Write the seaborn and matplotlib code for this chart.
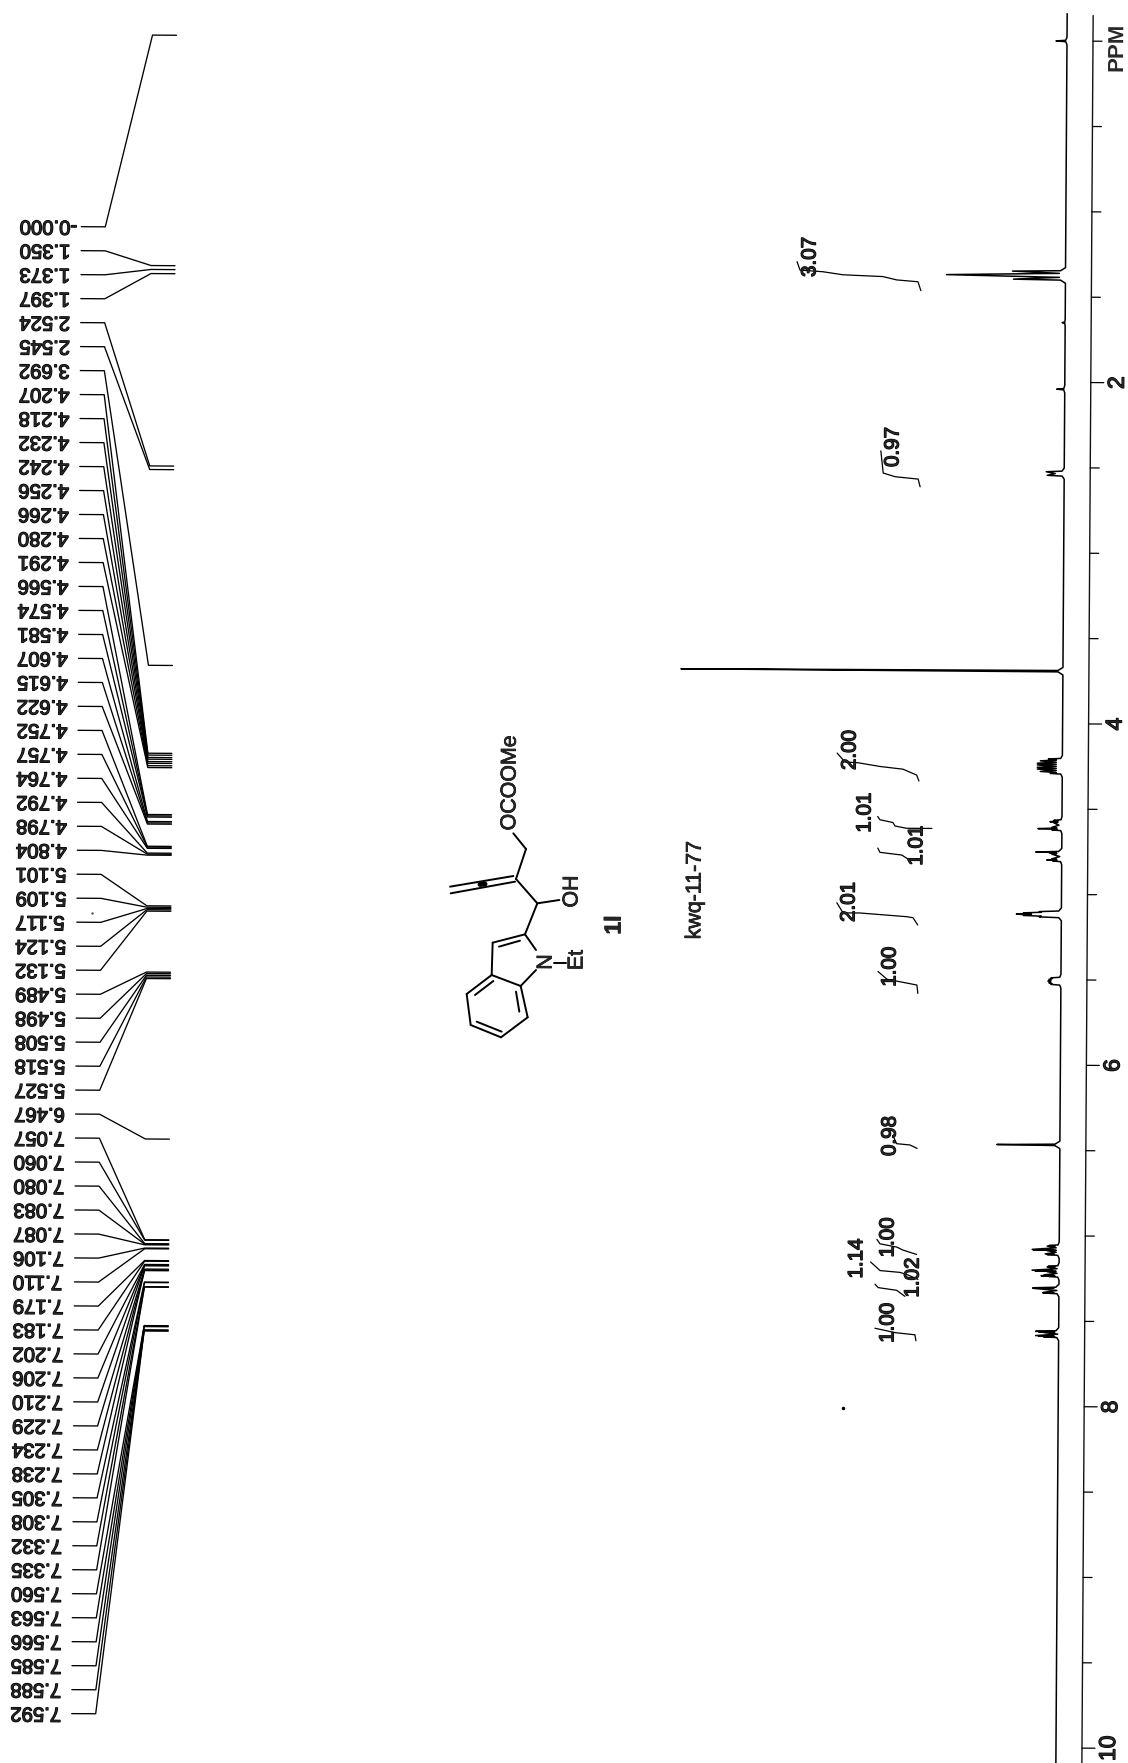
import matplotlib
matplotlib.use('Agg')
import matplotlib.pyplot as plt
import matplotlib.patheffects as pe
from matplotlib.transforms import Affine2D
import numpy as np
import seaborn as sns

# picked peaks, same order as the labels down the left side
peak_labels = ['-0.000', '1.350', '1.373', '1.397', '2.524', '2.545', '3.692',
               '4.207', '4.218', '4.232', '4.242', '4.256', '4.266', '4.280', '4.291',
               '4.566', '4.574', '4.581', '4.607', '4.615', '4.622',
               '4.752', '4.757', '4.764', '4.792', '4.798', '4.804',
               '5.101', '5.109', '5.117', '5.124', '5.132',
               '5.489', '5.498', '5.508', '5.518', '5.527', '6.467',
               '7.057', '7.060', '7.080', '7.083', '7.087', '7.106', '7.110',
               '7.179', '7.183', '7.202', '7.206', '7.210', '7.229', '7.234', '7.238',
               '7.305', '7.308', '7.332', '7.335',
               '7.560', '7.563', '7.566', '7.585', '7.588', '7.592']
peak_height = [11, 53, 119, 52, 18, 17, 382,
               14, 22, 25, 25, 25, 25, 22, 12,
               8, 12, 8, 10, 24, 10,
               26, 12, 10, 10, 15, 9,
               22, 38, 45, 38, 22,
               10, 12, 13, 12, 10, 63,
               10, 12, 27, 26, 12, 14, 12,
               11, 12, 27, 24, 12, 15, 18, 10,
               26, 26, 16, 16,
               23, 20, 15, 23, 20, 15]
# height of the dip after each peak, 0 = back to baseline
peak_valley = [0, 6, 6, 0, 9, 0, 0,
               6, 6, 6, 6, 6, 6, 6, 0,
               4, 4, 3, 5, 5, 0,
               6, 5, 2, 5, 5, 0,
               20, 30, 30, 20, 0,
               9, 10, 10, 9, 0, 0,
               4, 3, 6, 3, 3, 5, 0,
               4, 2, 6, 3, 2, 5, 4, 0,
               5, 2, 5, 0,
               5, 4, 1, 5, 4, 0]
# small unlabelled peaks
extra_ppm = [1.65, 2.04]
extra_height = [3, 8]

axis_ticks = [0.5 * i for i in range(21)]
axis_labels = ['2', '4', '6', '8', '10']

# integral curves: (height, ppm)
int_height = [
    [144.5, 147.5, 168.8, 182.5, 222.5, 242.5, 265.5, 268.5],
    [144, 146, 169, 181, 183.5],
    [143.3, 145.6, 159.3, 182.3, 204.3, 217.3, 225.3],
    [130, 144, 155.3, 167, 169, 182, 184.3],
    [140, 153.8, 160, 181.8, 184],
    [143.6, 148.3, 154.6, 201.3, 218.3, 224.6],
    [143, 144, 153, 174, 183],
    [142.7, 150, 163.3, 167],
    [142.6, 156.3, 162.3, 179.3, 182.3],
    [141, 151, 159, 179, 188.5],
    [154, 162.3, 180.7, 184],
    [142.7, 143.7, 163.7, 183.7],
]
int_ppm = [
    [1.468, 1.416, 1.406, 1.387, 1.378, 1.361, 1.352, 1.303],
    [2.617, 2.572, 2.559, 2.538, 2.408],
    [4.341, 4.306, 4.272, 4.257, 4.236, 4.232, 4.180],
    [4.618, 4.618, 4.618, 4.605, 4.585, 4.569, 4.550],
    [4.804, 4.798, 4.775, 4.760, 4.735],
    [5.184, 5.142, 5.136, 5.116, 5.116, 5.057],
    [5.585, 5.536, 5.526, 5.503, 5.458],
    [6.493, 6.473, 6.466, 6.418],
    [7.114, 7.089, 7.072, 7.053, 7.028],
    [7.260, 7.235, 7.220, 7.210, 7.160],
    [7.360, 7.325, 7.310, 7.290],
    [7.620, 7.585, 7.573, 7.548],
]
int_labels = ['3.07', '0.97', '2.00', '1.01', '1.01', '2.01', '1.00', '0.98', '1.00', '1.14', '1.02', '1.00']
int_label_px = [(810, 257), (893, 447), (850, 750), (865, 812.7), (916.7, 845.7), (849, 902),
                (890, 966.7), (890, 1136), (888, 1237.4), (856.7, 1258.6), (913, 1277.6), (888, 1322.8)]

# structure drawing, page pixels
bonds = [
    ((185, 825), (110, 882)), ((110, 882), (122, 975)), ((122, 975), (213, 1012)),
    ((213, 1012), (293, 952)), ((293, 952), (272, 858)), ((272, 858), (185, 825)),
    ((135, 885), (190, 843)), ((140, 965), (215, 995)), ((268, 935), (258, 875)),
    ((185, 825), (188, 728)), ((188, 728), (285, 703)), ((285, 703), (318, 750)),
    ((272, 858), (318, 810)), ((207, 740), (270, 722)), ((372, 790), (408, 790)),
    ((285, 703), (322, 610)), ((322, 610), (388, 600)), ((322, 610), (258, 537)),
    ((258, 537), (288, 447)), ((288, 447), (250, 400)),
    ((250, 528), (60, 560)), ((255, 545), (62, 580)),
]

W, H = 1128, 1763
sns.set_style('white')
plt.rcParams['font.family'] = ['Liberation Sans', 'DejaVu Sans']

fig = plt.figure(figsize=(W / 100, H / 100), dpi=100)
ax = fig.add_axes([0, 0, 1, 1])
ax.axis('off')

# scanned page is a little crooked
tilt = 0.37
skew = ax.transData + Affine2D().rotate_deg_around(1067, H - 41, -tilt)
page = Affine2D().scale(1, -1).translate(0, H)
ink = [pe.withStroke(linewidth=0.9, foreground='black')]
ink_thin = [pe.withStroke(linewidth=0.5, foreground='black')]

# spectrum trace
peak_ppm = [float(s) for s in peak_labels]
rows = sorted(zip(peak_ppm + extra_ppm, peak_height + extra_height, peak_valley + [0, 0]))
xs, ys = [0], [-0.16]
open_foot = True
for i, (p, h, v) in enumerate(rows):
    skirt = min(0.12 * h, 5)
    if open_foot:
        ys += [p - 0.022, p - 0.004]
        xs += [0, skirt]
    ys.append(p)
    xs.append(h)
    if v > 0:
        ys.append((p + rows[i + 1][0]) / 2)
        xs.append(v)
        open_foot = False
    else:
        ys += [p + 0.004, p + 0.022]
        xs += [skirt, 0]
        open_foot = True
xs.append(0)
ys.append(10.09)
sns.lineplot(x=xs, y=ys, sort=False, estimator=None, color='black', linewidth=1.1, ax=ax, transform=skew)

# ppm scale
sns.lineplot(x=[-26, -26], y=[-0.15, 10.09], sort=False, estimator=None, color='#111111', linewidth=1.0, ax=ax, transform=skew)
for t in axis_ticks:
    length = 13 if t % 2 == 0 and t > 0 else 9
    ax.plot([-26, -26 - length], [t, t], color='black', lw=0.9, transform=skew)
for t, s in zip(axis_ticks[4::4], axis_labels):
    ax.text(-52.5, t, s, rotation=90 - tilt, ha='center', va='center', fontsize=16.5, transform=skew, path_effects=ink)
ax.text(1117, 47, 'PPM', rotation=90 - tilt, ha='center', va='center', fontsize=16, fontweight='bold', transform=page)

# integrals
for hh, pp in zip(int_height, int_ppm):
    sns.lineplot(x=hh, y=pp, sort=False, estimator=None, color='black', linewidth=0.9, ax=ax, transform=skew)
for s, (px, py) in zip(int_labels, int_label_px):
    ax.text(px, py, s, rotation=90 - tilt, ha='center', va='center', fontsize=14.8, transform=page, path_effects=ink)

# peak labels and leaders
row_ppm = np.linspace(1.125, 9.836, len(peak_labels))
for s, p, r in zip(peak_labels, peak_ppm, row_ppm):
    ax.plot([984.5, 960.5, 914.5, 890.5], [r, r, p, p], color='black', lw=0.95, transform=skew)
    ax.text(1046, r, s, rotation=180 - tilt, ha='left', va='center', fontsize=14.6, transform=skew, path_effects=ink)

# structure
for a, b in bonds:
    ax.plot([430 + a[0] / 3, 430 + b[0] / 3], [700 + a[1] / 3, 700 + b[1] / 3], color='black', lw=1.4, transform=page)
ax.plot([480, 485], [884.5, 884], color='black', lw=3.5, transform=page)
ax.text(546, 962, 'N', rotation=90 - tilt, ha='center', va='center', fontsize=15.4, transform=page, path_effects=ink_thin)
ax.text(577, 960, 'Et', rotation=90 - tilt, ha='center', va='center', fontsize=15.4, transform=page, path_effects=ink_thin)
ax.text(572, 891.5, 'OH', rotation=90 - tilt, ha='center', va='center', fontsize=15.4, transform=page, path_effects=ink_thin)
ax.text(510, 783, 'OCOOMe', rotation=90 - tilt, ha='center', va='center', fontsize=15.4, transform=page, path_effects=ink_thin)
ax.text(614, 925, '1l', rotation=90 - tilt, ha='center', va='center', fontsize=16.5, fontweight='bold', transform=page, path_effects=ink_thin)
ax.text(695, 890, 'kwq-11-77', rotation=90 - tilt, ha='center', va='center', fontsize=15.4, transform=page, path_effects=ink_thin)

# scanner specks
ax.plot([843], [1408], marker='.', ms=3, color='black', transform=page)
ax.plot([92], [913], marker='.', ms=1.5, color='#555555', transform=page)

ax.set_xlim(1067, -61)
ax.set_ylim((H - 41) / 170.7, -41 / 170.7)
fig.savefig('out.png', dpi=100)
